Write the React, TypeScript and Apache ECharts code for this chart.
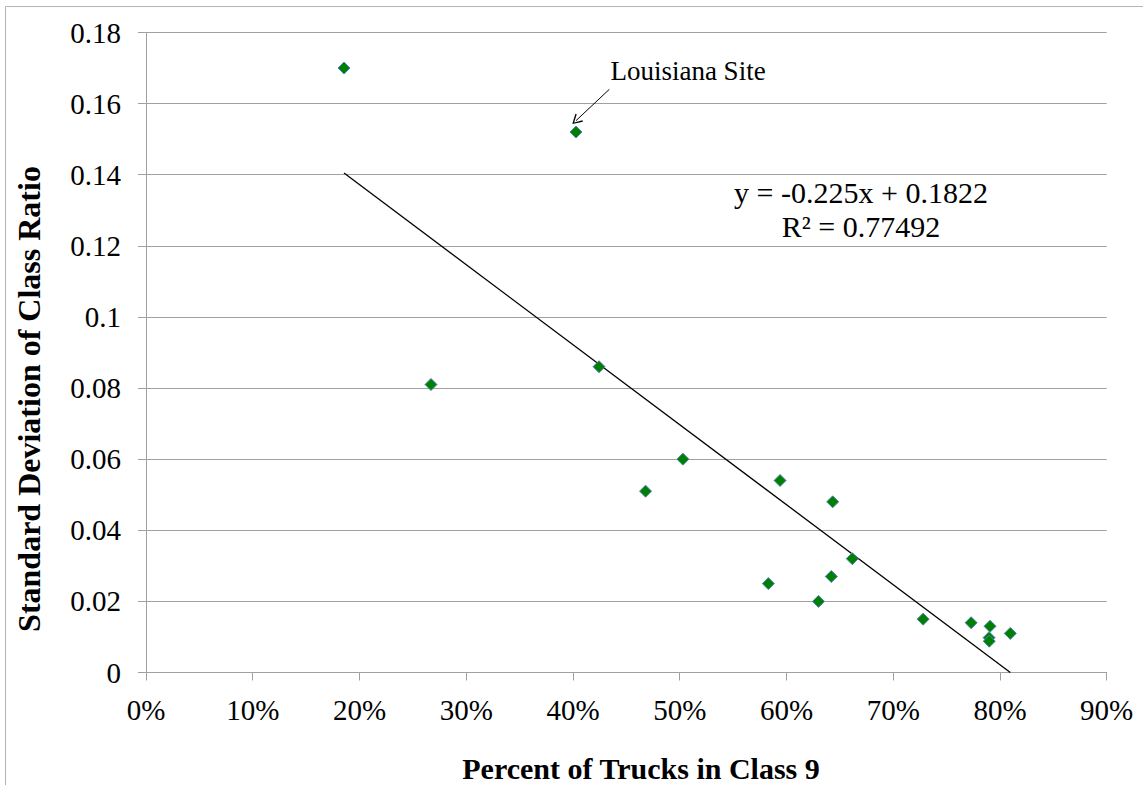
import React, { useEffect, useRef } from "react";
import * as echarts from "echarts";

// Percent of trucks in Class 9 (fraction) vs standard deviation of class ratio
const pctClass9 = [
  0.1855, 0.4028, 0.267, 0.4244, 0.503, 0.468, 0.594, 0.6433, 0.6617,
  0.642, 0.583, 0.63, 0.728, 0.773, 0.7907, 0.8097, 0.7898, 0.79,
];
const stdDev = [
  0.17, 0.152, 0.081, 0.086, 0.06, 0.051, 0.054, 0.048, 0.032,
  0.027, 0.025, 0.02, 0.015, 0.014, 0.013, 0.011, 0.0098, 0.0088,
];
const trendSlope = -0.225;
const trendIntercept = 0.1822;
const yTicks = [0, 0.02, 0.04, 0.06, 0.08, 0.1, 0.12, 0.14, 0.16, 0.18];
const xTicks = [0, 0.1, 0.2, 0.3, 0.4, 0.5, 0.6, 0.7, 0.8, 0.9];
const annotationLabel = "Louisiana Site";
const annotationFrom = [0.434, 0.164];
const annotationTo = [0.4028, 0.1552];
const equationText = "y = -0.225x + 0.1822";
const r2Text = "R² = 0.77492";
const xTitle = "Percent of Trucks in Class 9";
const yTitle = "Standard Deviation of Class Ratio";

const FONT = "'Liberation Serif', 'Times New Roman', serif";

export default function App() {
  const ref = useRef<HTMLDivElement>(null);
  useEffect(() => {
    if (!ref.current) return;
    const chart = echarts.init(ref.current, undefined, { renderer: "svg" });
    const points = pctClass9.map((x, i) => [x, stdDev[i]]);
    const xMin = Math.min(...pctClass9);
    const xMax = Math.max(...pctClass9);
    const trend = [
      [xMin, trendSlope * xMin + trendIntercept],
      [xMax, trendSlope * xMax + trendIntercept],
    ];
    chart.setOption({
      animation: false,
      backgroundColor: "#ffffff",
      grid: { left: 146, top: 32.5, right: 36.3, bottom: 112.5 },
      xAxis: {
        type: "value",
        min: xTicks[0],
        max: xTicks[xTicks.length - 1],
        interval: 0.1,
        axisLine: { show: true, lineStyle: { color: "#A0A0A0", width: 1 } },
        axisTick: { show: true, inside: false, length: 8, lineStyle: { color: "#A0A0A0" } },
        splitLine: { show: false },
        axisLabel: {
          margin: 23,
          color: "#000",
          fontFamily: FONT,
          fontSize: 29,
          formatter: (v: number) => Math.round(v * 100) + "%",
        },
      },
      yAxis: {
        type: "value",
        min: yTicks[0],
        max: yTicks[yTicks.length - 1],
        interval: 0.02,
        axisLine: { show: true, lineStyle: { color: "#A0A0A0", width: 1 } },
        axisTick: { show: true, inside: false, length: 8, lineStyle: { color: "#A0A0A0" } },
        splitLine: { show: true, lineStyle: { color: "#A0A0A0", width: 1 } },
        axisLabel: {
          margin: 25,
          color: "#000",
          fontFamily: FONT,
          fontSize: 29,
          formatter: (v: number) => String(+v.toFixed(2)),
        },
      },
      series: [
        {
          type: "line",
          data: trend,
          symbol: "none",
          lineStyle: { color: "#000", width: 1.3 },
          silent: true,
          z: 2,
          markLine: {
            silent: true,
            symbol: ["none", "path://M5,0 L10,9 L8.8,9.6 L5,2.4 L1.2,9.6 L0,9 Z"],
            symbolSize: [11, 10],
            label: { show: false },
            lineStyle: { color: "#000", width: 1, type: "solid" },
            data: [[{ coord: annotationFrom }, { coord: annotationTo }]],
          },
        },
        {
          type: "scatter",
          data: points,
          symbol: "diamond",
          symbolSize: 12,
          itemStyle: { color: "#008000", borderColor: "#4F81BD", borderWidth: 1, opacity: 1 },
          z: 3,
        },
      ],
      graphic: [
        {
          type: "rect",
          shape: { x: 5.5, y: 6.5, width: 1200, height: 900 },
          style: { fill: "none", stroke: "#B4B4B4", lineWidth: 1 },
          silent: true,
          z: -1,
        },
        {
          type: "text",
          x: 688,
          y: 71,
          style: {
            text: annotationLabel,
            fontFamily: FONT,
            fontSize: 27,
            fill: "#000",
            align: "center",
            verticalAlign: "middle",
          },
        },
        {
          type: "text",
          x: 861,
          y: 192,
          style: {
            text: equationText,
            fontFamily: FONT,
            fontSize: 30,
            fill: "#000",
            align: "center",
            verticalAlign: "middle",
          },
        },
        {
          type: "text",
          x: 861,
          y: 226,
          style: {
            text: r2Text,
            fontFamily: FONT,
            fontSize: 30,
            fill: "#000",
            align: "center",
            verticalAlign: "middle",
          },
        },
        {
          type: "text",
          x: 641,
          y: 768,
          style: {
            text: xTitle,
            fontFamily: FONT,
            fontSize: 30,
            fontWeight: "bold",
            fill: "#000",
            align: "center",
            verticalAlign: "middle",
          },
        },
        {
          type: "text",
          x: 29,
          y: 399,
          rotation: Math.PI / 2,
          style: {
            text: yTitle,
            fontFamily: FONT,
            fontSize: 32,
            fontWeight: "bold",
            fill: "#000",
            align: "center",
            verticalAlign: "middle",
          },
        },
      ],
    });
    return () => chart.dispose();
  }, []);
  return (
    <div
      ref={ref}
      style={{ position: "fixed", left: 0, top: 0, width: 1143, height: 785 }}
    />
  );
}
